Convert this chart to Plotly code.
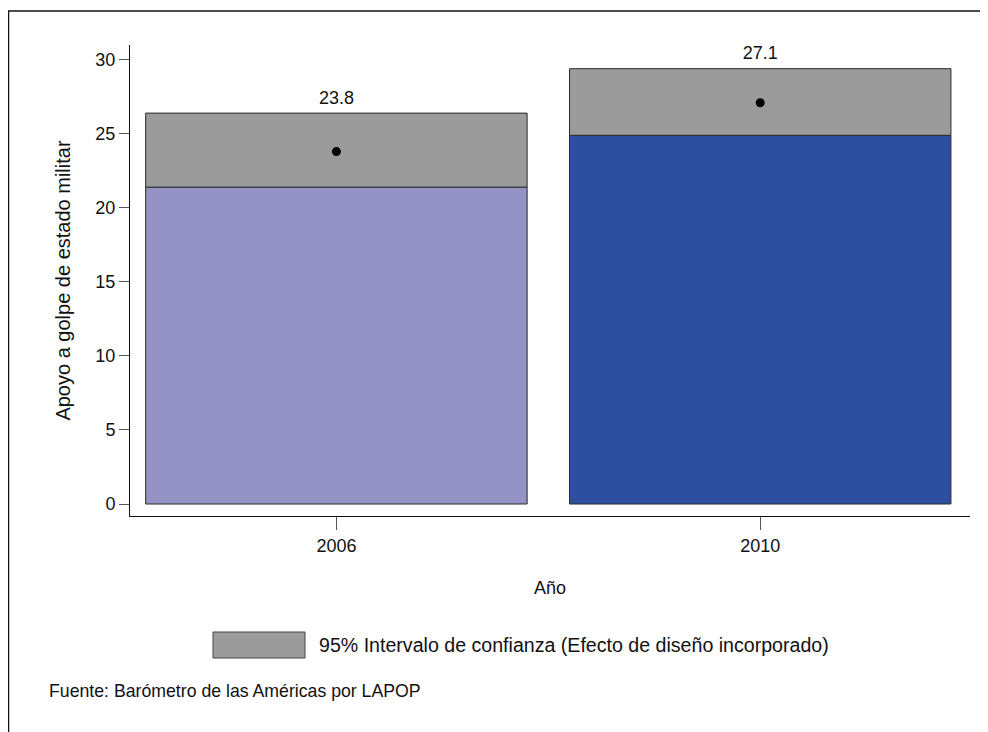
import plotly.graph_objects as go

# datos
years = ['2006', '2010']
mean_vals = [23.8, 27.1]
ci_low = [21.4, 24.9]
ci_high = [26.4, 29.4]
bar_colors = ['#9593C6', '#2E4FA0']
ci_color = '#9B9B9B'

# área de trazado en píxeles (la página se dibuja con 8 px de margen del body)
L, T, PW, PH = 122, 37, 840, 471


def px(x):
    return (x - L) / PW


def py(y):
    return (T + PH - y) / PH


fig = go.Figure()

# barra principal (0 hasta límite inferior del IC)
fig.add_trace(go.Bar(
    x=years, y=ci_low,
    marker=dict(color=bar_colors, line=dict(color='#2a2a2a', width=1)),
    width=0.9, showlegend=False, hoverinfo='skip'
))

# intervalo de confianza
fig.add_trace(go.Bar(
    x=years, y=[h - l for h, l in zip(ci_high, ci_low)], base=ci_low,
    marker=dict(color=ci_color, line=dict(color='#2a2a2a', width=1)),
    width=0.9, showlegend=False,
    name='95% Intervalo de confianza (Efecto de diseño incorporado)'
))

# media
fig.add_trace(go.Scatter(
    x=years, y=mean_vals, mode='markers',
    marker=dict(color='black', size=9), showlegend=False
))

# etiquetas de valor sobre el IC
fig.add_trace(go.Scatter(
    x=years, y=ci_high, mode='markers+text',
    marker=dict(size=6, opacity=0),
    text=[f"{v:.1f}" for v in mean_vals],
    textposition='top center',
    textfont=dict(size=18, color='#111111'),
    cliponaxis=False,
    showlegend=False, hoverinfo='skip'
))

font = "Liberation Sans, Arial, sans-serif"

fig.update_layout(
    width=988, height=732,
    margin=dict(l=L, r=988 - L - PW, t=T, b=732 - T - PH),
    plot_bgcolor='white', paper_bgcolor='white',
    barmode='overlay',
    font=dict(family=font, size=18, color='#111111'),
    xaxis=dict(
        type='category', range=[-0.487, 1.495],
        showline=True, linecolor='#111111', linewidth=1,
        ticks='outside', ticklen=13, tickcolor='#555555',
        tickfont=dict(size=18),
        showgrid=False, zeroline=False,
        title=dict(text='Año', standoff=26, font=dict(size=18)),
    ),
    yaxis=dict(
        range=[-0.81, 31.0],
        tickvals=[0, 5, 10, 15, 20, 25, 30],
        showline=True, linecolor='#111111', linewidth=1,
        ticks='outside', ticklen=10, tickcolor='#555555',
        tickfont=dict(size=18),
        showgrid=False, zeroline=False,
        title=dict(text='Apoyo a golpe de estado militar', standoff=19,
                   font=dict(size=20)),
    ),
)

# leyenda dibujada a mano (caja grande como en el original)
fig.add_shape(type='rect', xref='paper', yref='paper',
              x0=px(205), x1=px(297), y0=py(650), y1=py(624),
              fillcolor=ci_color, line=dict(color='#444444', width=1))
fig.add_annotation(xref='paper', yref='paper',
                   x=px(309), y=py(637),
                   xanchor='left', yanchor='middle', showarrow=False,
                   text='95% Intervalo de confianza (Efecto de diseño incorporado)',
                   font=dict(size=19.6))
fig.add_annotation(xref='paper', yref='paper',
                   x=px(39), y=py(683),
                   xanchor='left', yanchor='middle', showarrow=False,
                   text='Fuente: Barómetro de las Américas por LAPOP',
                   font=dict(size=17.7))

# marco exterior
fig.add_shape(type='rect', xref='paper', yref='paper',
              x0=px(0.5), x1=px(1100), y0=py(900), y1=py(3),
              line=dict(color='#111111', width=1.5), fillcolor='rgba(0,0,0,0)')

fig.write_html("out.html")
